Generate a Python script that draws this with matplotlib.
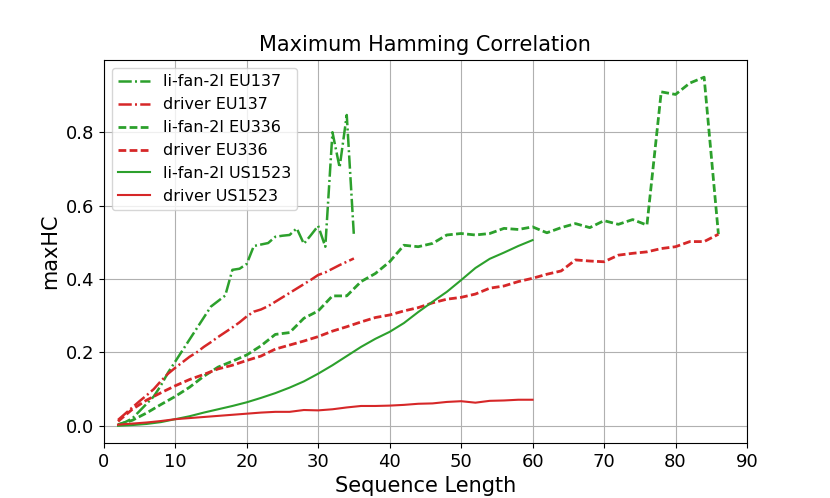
import matplotlib
matplotlib.use("Agg")
import matplotlib.pyplot as plt

# EU137: sequence lengths 2..35
x_eu137 = list(range(2, 36))
lifan_eu137 = [0.003, 0.01, 0.02, 0.04, 0.06, 0.08, 0.11, 0.145, 0.175, 0.205,
               0.235, 0.265, 0.295, 0.325, 0.34, 0.355, 0.425, 0.428, 0.441, 0.49,
               0.494, 0.498, 0.515, 0.518, 0.52, 0.538, 0.496, 0.52, 0.545, 0.488,
               0.80, 0.704, 0.847, 0.518]
driver_eu137 = [0.016, 0.033, 0.05, 0.067, 0.083, 0.10, 0.122, 0.142, 0.158, 0.173,
                0.188, 0.20, 0.215, 0.228, 0.242, 0.255, 0.268, 0.282, 0.298, 0.311,
                0.317, 0.326, 0.338, 0.35, 0.362, 0.374, 0.386, 0.398, 0.411, 0.418,
                0.428, 0.438, 0.447, 0.456]

# EU336: sequence lengths 2..86 step 2
x_eu336 = list(range(2, 87, 2))
lifan_eu336 = [0.003, 0.015, 0.035, 0.058, 0.08, 0.105, 0.135, 0.16, 0.176, 0.193,
               0.218, 0.249, 0.254, 0.293, 0.313, 0.354, 0.354, 0.393, 0.415, 0.447,
               0.492, 0.488, 0.497, 0.52, 0.524, 0.52, 0.524, 0.538, 0.535, 0.542,
               0.526, 0.54, 0.551, 0.54, 0.559, 0.549, 0.562, 0.547, 0.91, 0.903,
               0.934, 0.95, 0.522]
driver_eu336 = [0.012, 0.045, 0.07, 0.09, 0.109, 0.126, 0.14, 0.155, 0.165, 0.178,
                0.19, 0.209, 0.22, 0.231, 0.243, 0.258, 0.27, 0.283, 0.295, 0.302,
                0.313, 0.322, 0.335, 0.345, 0.35, 0.359, 0.375, 0.381, 0.393, 0.402,
                0.413, 0.422, 0.452, 0.449, 0.447, 0.465, 0.47, 0.474, 0.483, 0.488,
                0.502, 0.502, 0.522]

# US1523: sequence lengths 2..60 step 2
x_us1523 = list(range(2, 61, 2))
lifan_us1523 = [0.0, 0.002, 0.005, 0.01, 0.018, 0.026, 0.036, 0.045, 0.054, 0.064,
                0.076, 0.089, 0.104, 0.121, 0.142, 0.165, 0.19, 0.215, 0.237, 0.256,
                0.28, 0.31, 0.338, 0.365, 0.397, 0.43, 0.455, 0.472, 0.49, 0.506]
driver_us1523 = [0.003, 0.006, 0.009, 0.013, 0.018, 0.021, 0.024, 0.027, 0.030, 0.033,
                 0.036, 0.038, 0.038, 0.043, 0.042, 0.045, 0.050, 0.054, 0.054, 0.055,
                 0.057, 0.060, 0.061, 0.065, 0.067, 0.063, 0.068, 0.069, 0.071, 0.071]

GREEN = "#2ca02c"
RED = "#d62728"
# dash patterns sized like the default ones at linewidth 1.5
DASHDOT = (5.3, 1.3, 0.8, 1.3)
DASHED = (2.8, 1.2)

fig, ax = plt.subplots(figsize=(8.3, 4.98), dpi=100)

ax.plot(x_eu137, lifan_eu137, color=GREEN, lw=1.8, dashes=DASHDOT, label="li-fan-2l EU137")
ax.plot(x_eu137, driver_eu137, color=RED, lw=1.8, dashes=DASHDOT, label="driver EU137")
ax.plot(x_eu336, lifan_eu336, color=GREEN, lw=2, dashes=DASHED, label="li-fan-2l EU336")
ax.plot(x_eu336, driver_eu336, color=RED, lw=2, dashes=DASHED, label="driver EU336")
ax.plot(x_us1523, lifan_us1523, color=GREEN, linestyle="-", lw=1.5, label="li-fan-2l US1523")
ax.plot(x_us1523, driver_us1523, color=RED, linestyle="-", lw=1.5, label="driver US1523")

ax.set_xlim(0, 90)
ax.grid(True)
ax.set_title("Maximum Hamming Correlation", fontsize=15)
ax.set_xlabel("Sequence Length", fontsize=15)
ax.set_ylabel("maxHC", fontsize=15)
ax.tick_params(labelsize=13)
ax.legend(loc="upper left", fontsize=11.5)

plt.savefig("out.png")
